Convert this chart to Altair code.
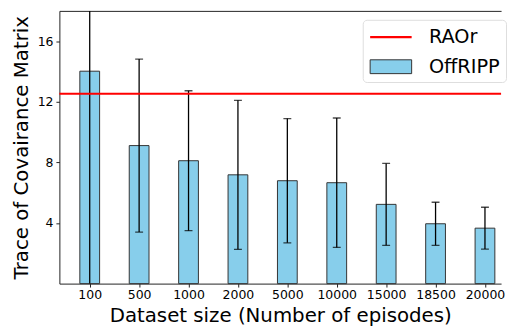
import altair as alt
import pandas as pd

sizes = ["100", "500", "1000", "2000", "5000", "10000", "15000", "18500", "20000"]
means = [14.02, 9.11, 8.11, 7.18, 6.79, 6.66, 5.23, 3.95, 3.66]
errs = [15.0, 5.71, 4.62, 4.92, 4.10, 4.27, 2.70, 1.42, 1.38]
raor_value = 12.53

df = pd.DataFrame({
    "idx": list(range(len(sizes))),
    "size": sizes,
    "mean": means,
    "lo": [m - e for m, e in zip(means, errs)],
    "hi": [m + e for m, e in zip(means, errs)],
    "series": ["OffRIPP"] * len(sizes),
})
raor_df = pd.DataFrame({"y": [raor_value], "series": ["RAOr"]})

label_expr = "[" + ",".join("'%s'" % s for s in sizes) + "][datum.value]"
FONT = "DejaVu Sans"
DOMAIN = ["RAOr", "OffRIPP"]

xscale = alt.Scale(domain=[-0.614, 8.326], nice=False, zero=False, padding=0)
yscale = alt.Scale(domain=[0, 18], nice=False, padding=0)

legend = alt.Legend(
    title=None, orient="none", legendX=307, legendY=9,
    labelFontSize=19.5, labelFont=FONT, labelColor="black",
    symbolSize=400, labelOffset=38, rowPadding=10, padding=6,
    strokeColor="#dddddd", fillColor="white", cornerRadius=4,
    symbolOpacity=1,
)

fill_enc = alt.Fill("series:N", scale=alt.Scale(domain=DOMAIN, range=["transparent", "#87CEEB"]), legend=legend)
stroke_enc = alt.Stroke("series:N", scale=alt.Scale(domain=DOMAIN, range=["red", "#333333"]), legend=legend)
sw_enc = alt.StrokeWidth("series:N", scale=alt.Scale(domain=DOMAIN, range=[2.2, 1.0]), legend=legend)
shape_enc = alt.Shape("series:N", scale=alt.Scale(domain=DOMAIN, range=["M-1,0H3.2", "M-1,-0.7H3.2V0.7H-1Z"]),
                      legend=legend)

bars = alt.Chart(df).mark_bar(width=20, opacity=1).encode(
    x=alt.X("idx:Q", scale=xscale, axis=alt.Axis(
        values=list(range(len(sizes))), labelExpr=label_expr, title="Dataset size (Number of episodes)",
        grid=False, tickSize=3.5, tickColor="#222", domainColor="#222", labelFontSize=12.6,
        labelFont=FONT, labelColor="black", titleFont=FONT, titleFontSize=20, titleFontWeight="normal",
        titleColor="black", labelPadding=2, titlePadding=4)),
    y=alt.Y("mean:Q", scale=yscale, axis=alt.Axis(
        values=[4, 8, 12, 16], title="Trace of Covairance Matrix", grid=False, tickSize=3.5,
        tickColor="#222", domainColor="#222", labelFontSize=12.6, labelFont=FONT, labelColor="black",
        titleFont=FONT, titleFontSize=20, titleFontWeight="normal", titleColor="black",
        labelPadding=3, titlePadding=6)),
    fill=fill_enc,
    stroke=stroke_enc,
    strokeWidth=sw_enc,
)

err = alt.Chart(df).mark_rule(color="black", strokeWidth=1.3, clip=True).encode(
    x=alt.X("idx:Q", scale=xscale, axis=alt.Axis(orient="top", labels=False, ticks=False, title=None,
                                                  grid=False, domainColor="#222")),
    y=alt.Y("lo:Q", scale=yscale),
    y2="hi:Q",
)
caps_hi = alt.Chart(df).mark_tick(color="black", orient="horizontal", size=8, thickness=1.3, clip=True).encode(
    x=alt.X("idx:Q", scale=xscale, axis=None), y=alt.Y("hi:Q", scale=yscale))
caps_lo = alt.Chart(df).mark_tick(color="black", orient="horizontal", size=8, thickness=1.3, clip=True).encode(
    x=alt.X("idx:Q", scale=xscale, axis=None), y=alt.Y("lo:Q", scale=yscale))

raor = alt.Chart(raor_df).mark_rule().encode(
    y=alt.Y("y:Q", scale=yscale),
    stroke=stroke_enc,
    strokeWidth=sw_enc,
)

# invisible point layer that only carries the legend symbol shapes
legend_shapes = alt.Chart(raor_df).mark_point(filled=True, opacity=0, size=0).encode(
    y=alt.Y("y:Q", scale=yscale),
    shape=shape_enc,
    fill=fill_enc,
    stroke=stroke_enc,
    strokeWidth=sw_enc,
)

chart = alt.layer(bars, err, caps_hi, caps_lo, raor, legend_shapes).resolve_axis(x="independent").properties(
    width=447, height=276, padding={"left": 3, "top": 1, "right": 0, "bottom": 0}
).configure_view(stroke="transparent", strokeWidth=0, strokeOpacity=0)

chart.save("out.html", embed_options={"renderer": "svg", "actions": False})
